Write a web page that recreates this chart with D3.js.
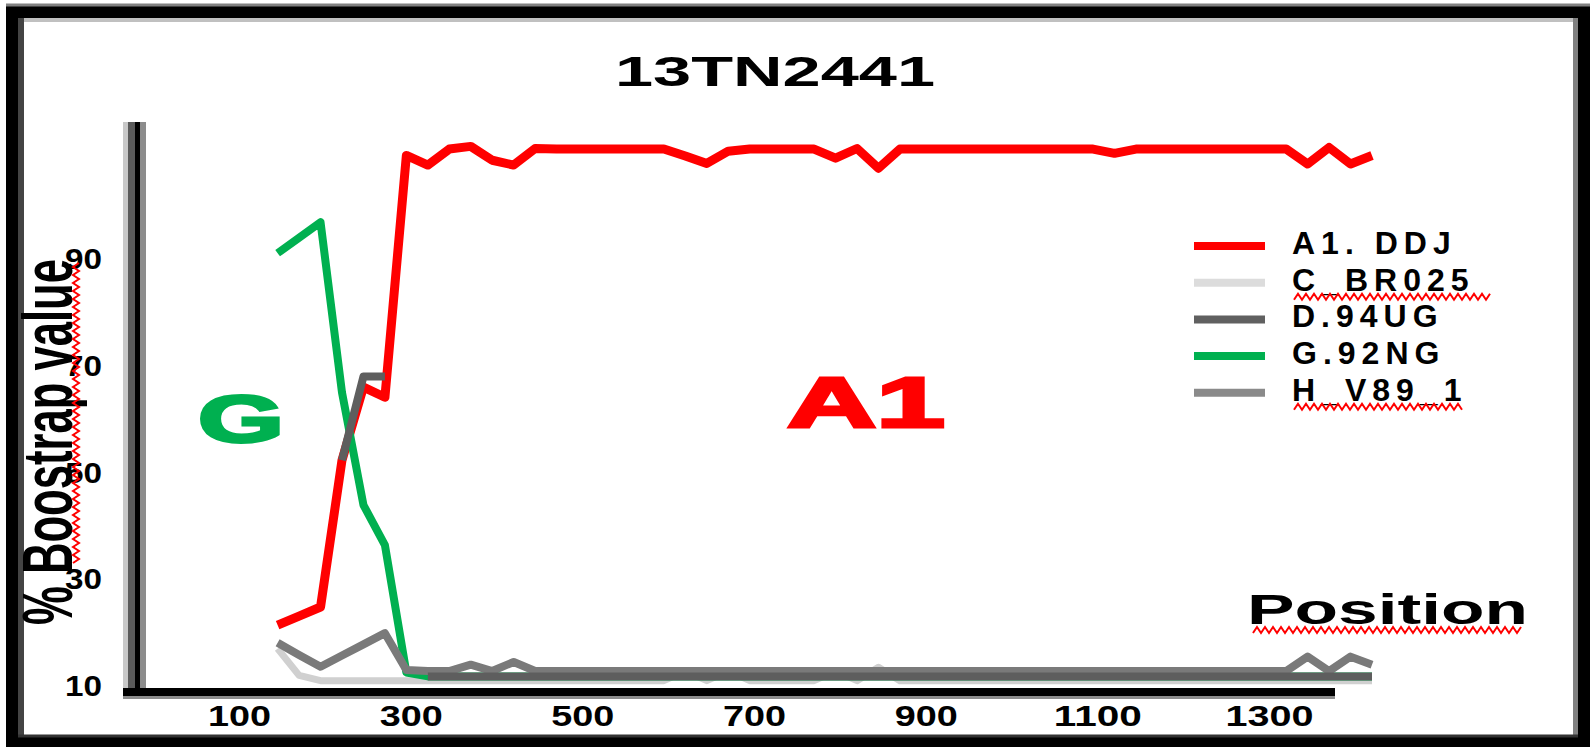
<!DOCTYPE html>
<html><head><meta charset="utf-8">
<script src="https://cdn.jsdelivr.net/npm/d3@7"></script>
<style>html,body{margin:0;padding:0;background:#fff;overflow:hidden} svg{display:block}</style>
</head><body>
<svg id="chart" width="1593" height="747"></svg>
<script>
// ---------------- data ----------------
const chartTitle = "13TN2441";
const xTitle = "Position";
const yTitle = "% Boostrap value";
const regionLabels = ["G", "A1"];
const seriesNames = ["A1. DDJ", "C_BR025", "D.94UG", "G.92NG", "H_V89_1"];
const xTickValues = [100, 300, 500, 700, 900, 1100, 1300];
const xTickLabels = ["100", "300", "500", "700", "900", "1100", "1300"];
const yTickValues = [10, 30, 50, 70, 90];
const yTickLabels = ["10", "30", "50", "70", "90"];

const positions = [145,170,195,220,245,270,295,320,345,370,395,420,445,470,495,520,545,570,595,620,645,670,695,720,745,770,795,820,845,870,895,920,945,970,995,1020,1045,1070,1095,1120,1145,1170,1195,1220,1245,1270,1295,1320,1345,1370,1395,1420];

const a1DDJ = [21.4,23.1,24.8,52.3,66,64.1,109.4,107.6,110.6,111.1,108.5,107.6,110.7,
  110.6,110.6,110.6,110.6,110.6,110.6,109.3,107.9,110.2,110.6,110.6,110.6,110.6,108.9,110.7,107.0,
  110.6,110.6,110.6,110.6,110.6,110.6,110.6,110.6,110.6,110.6,109.8,
  110.6,110.6,110.6,110.6,110.6,110.6,110.6,110.6,107.8,110.9,107.8,109.4];

const cBR025 = [17,12,11,11,11,11,11,11,11,11,11,11,11,11,11,11,11,11,11,12.8,11,12.8,11,11,11,11,12.8,11,13.5,
  11,11,11,11,11,11,11,11,11,11,11,11,11,11,11,11,11,11,11,11,11,11,11];

const d94UG = [null,null,null,52.3,68,68,null,
  11.8,11.8,11.8,11.8,11.8,11.8,11.8,11.8,11.8,11.8,11.8,11.8,11.8,11.8,11.8,11.8,11.8,11.8,11.8,11.8,11.8,11.8,
  11.8,11.8,11.8,11.8,11.8,11.8,11.8,11.8,11.8,11.8,11.8,11.8,11.8,11.8,11.8,11.8,11.8,11.8,11.8,11.8,11.8,11.8,11.8];

const g92NG = [91.1,94,96.9,65,43.9,36.4,12.5,
  11.8,11.8,11.8,11.8,11.8,11.8,11.8,11.8,11.8,11.8,11.8,11.8,11.8,11.8,11.8,11.8,11.8,11.8,11.8,11.8,11.8,11.8,
  11.8,11.8,11.8,11.8,11.8,11.8,11.8,11.8,11.8,11.8,11.8,11.8,11.8,11.8,11.8,11.8,11.8,11.8,11.8,11.8,11.8,11.8,11.8];

const hV891 = [18.1,15.8,13.6,15.7,17.8,19.9,13,12.8,12.8,14,12.8,14.5,12.8,
  12.8,12.8,12.8,12.8,12.8,12.8,12.8,12.8,12.8,12.8,12.8,12.8,12.8,12.8,12.8,12.8,12.8,12.8,12.8,12.8,12.8,12.8,
  12.8,12.8,12.8,12.8,12.8,12.8,12.8,12.8,12.8,12.8,12.8,12.8,12.8,15.5,12.8,15.5,14];

// ---------------- drawing ----------------
const FONT = "'Liberation Sans', Arial, sans-serif";
const svg = d3.select("#chart");

const series = [
  {name: seriesNames[1], values: cBR025, color: "#d0d0d0", w: 7},
  {name: seriesNames[0], values: a1DDJ, color: "#ff0000", w: 9},
  {name: seriesNames[3], values: g92NG, color: "#00b050", w: 8},
  {name: seriesNames[4], values: hV891, color: "#7a7a7a", w: 8},
  {name: seriesNames[2], values: d94UG, color: "#5e5e5e", w: 8}
];
const legendOrder = [
  {name: seriesNames[0], color: "#ff0000"},
  {name: seriesNames[1], color: "#dcdcdc"},
  {name: seriesNames[2], color: "#606060"},
  {name: seriesNames[3], color: "#00b050"},
  {name: seriesNames[4], color: "#8a8a8a"}
];

const x = d3.scaleLinear().domain([100, 1300]).range([239, 1269]);
const y = d3.scaleLinear().domain([10, 90]).range([686, 259]);

// outer frame
svg.append("rect").attr("x", 12).attr("y", 12).attr("width", 1572).attr("height", 729)
  .attr("fill", "none").attr("stroke", "#000").attr("stroke-width", 12);
svg.append("line").attr("x1", 6).attr("x2", 1590).attr("y1", 5).attr("y2", 5).attr("stroke", "#808080").attr("stroke-width", 3);
svg.append("line").attr("x1", 18).attr("x2", 1578).attr("y1", 20).attr("y2", 20).attr("stroke", "#c0c0c0").attr("stroke-width", 4);
svg.append("line").attr("x1", 21).attr("x2", 21).attr("y1", 18).attr("y2", 735).attr("stroke", "#444").attr("stroke-width", 6);
svg.append("line").attr("x1", 1575.5).attr("x2", 1575.5).attr("y1", 18).attr("y2", 735).attr("stroke", "#808080").attr("stroke-width", 5);
svg.append("line").attr("x1", 18).attr("x2", 1578).attr("y1", 736).attr("y2", 736).attr("stroke", "#333").attr("stroke-width", 3);

// title
svg.append("text").attr("x", 775).attr("y", 86).attr("text-anchor", "middle")
  .attr("font-family", FONT).attr("font-weight", "bold").attr("font-size", 42)
  .attr("textLength", 320).attr("lengthAdjust", "spacingAndGlyphs").text(chartTitle);

// axis lines
const yAx = svg.append("g");
[[125.5, 5, "#c8c8c8"], [131.5, 7, "#5a5a5a"], [137.5, 5, "#000"], [143, 6, "#8c8c8c"]].forEach(([cx, w, c]) =>
  yAx.append("line").attr("x1", cx).attr("x2", cx).attr("y1", 122).attr("y2", 696).attr("stroke", c).attr("stroke-width", w));
svg.append("line").attr("x1", 123).attr("x2", 1335).attr("y1", 692).attr("y2", 692).attr("stroke", "#000").attr("stroke-width", 8);
svg.append("line").attr("x1", 123).attr("x2", 1335).attr("y1", 697.5).attr("y2", 697.5).attr("stroke", "#8c8c8c").attr("stroke-width", 3);

// x axis ticks
const gx = svg.append("g").attr("transform", "translate(0,705)")
  .call(d3.axisBottom(x).tickValues(xTickValues).tickFormat((d, i) => xTickLabels[i]).tickSize(0).tickPadding(0));
gx.select(".domain").remove();
gx.selectAll("text").attr("font-family", FONT).attr("font-weight", "bold").attr("font-size", 30).attr("fill", "#000")
  .attr("textLength", d => String(d).length > 3 ? 88 : 63).attr("lengthAdjust", "spacingAndGlyphs");

// y axis ticks
const gy = svg.append("g").attr("transform", "translate(102,0)")
  .call(d3.axisLeft(y).tickValues(yTickValues).tickFormat((d, i) => yTickLabels[i]).tickSize(0).tickPadding(0));
gy.select(".domain").remove();
gy.selectAll("text").attr("font-family", FONT).attr("font-weight", "bold").attr("font-size", 30).attr("fill", "#000")
  .attr("textLength", 37).attr("lengthAdjust", "spacingAndGlyphs");

// lines
const line = d3.line().defined(d => d[1] != null).x(d => x(d[0])).y(d => y(d[1]));
series.forEach(s => {
  svg.append("path").datum(positions.map((p, i) => [p, s.values[i]]))
    .attr("d", line).attr("fill", "none").attr("stroke", s.color).attr("stroke-width", s.w)
    .attr("stroke-linejoin", "round").attr("stroke-linecap", "butt");
});

// region labels
svg.append("text").attr("x", 241).attr("y", 442).attr("text-anchor", "middle")
  .attr("font-family", FONT).attr("font-weight", "bold").attr("font-size", 66)
  .attr("fill", "#00b050").attr("stroke", "#00b050").attr("stroke-width", 3)
  .attr("textLength", 86).attr("lengthAdjust", "spacingAndGlyphs").text(regionLabels[0]);
svg.append("text").attr("x", 866).attr("y", 427).attr("text-anchor", "middle")
  .attr("font-family", FONT).attr("font-weight", "bold").attr("font-size", 71)
  .attr("fill", "#ff0000").attr("stroke", "#ff0000").attr("stroke-width", 3)
  .attr("textLength", 158).attr("lengthAdjust", "spacingAndGlyphs").text(regionLabels[1]);

// squiggle helper (spell-check underline)
function squiggleH(x0, x1, yy) {
  const pts = [];
  for (let xx = x0, k = 0; xx <= x1; xx += 4, k++) pts.push([xx, yy + (k % 2 ? -3 : 3)]);
  svg.append("path").attr("d", d3.line()(pts)).attr("fill", "none").attr("stroke", "#ff0000").attr("stroke-width", 2);
}
function squiggleV(y0, y1, xx) {
  const pts = [];
  for (let yy = y0, k = 0; yy <= y1; yy += 4, k++) pts.push([xx + (k % 2 ? -3 : 3), yy]);
  svg.append("path").attr("d", d3.line()(pts)).attr("fill", "none").attr("stroke", "#ff0000").attr("stroke-width", 2);
}

// x title
svg.append("text").attr("x", 1247).attr("y", 624)
  .attr("font-family", FONT).attr("font-weight", "bold").attr("font-size", 43)
  .attr("textLength", 281).attr("lengthAdjust", "spacingAndGlyphs").text(xTitle);
squiggleH(1253, 1523, 630);

// y title
svg.append("text").attr("transform", "translate(72,442) rotate(-90)").attr("text-anchor", "middle")
  .attr("font-family", FONT).attr("font-weight", "bold").attr("font-size", 70)
  .attr("textLength", 366).attr("lengthAdjust", "spacingAndGlyphs").text(yTitle);
squiggleV(263, 563, 76);

// legend
const lg = svg.append("g");
legendOrder.forEach((s, i) => {
  const ly = 246 + i * 36.7;
  lg.append("line").attr("x1", 1194).attr("x2", 1265).attr("y1", ly).attr("y2", ly)
    .attr("stroke", s.color).attr("stroke-width", 8);
  lg.append("text").attr("x", 1292).attr("y", ly + 8)
    .attr("font-family", FONT).attr("font-weight", "bold").attr("font-size", 32)
    .attr("letter-spacing", 6).text(s.name);
  if (s.name.indexOf("_") >= 0) {
    squiggleH(1294, 1292 + (i === 1 ? 198 : 170), ly + 14);
  }
});
</script>
</body></html>
